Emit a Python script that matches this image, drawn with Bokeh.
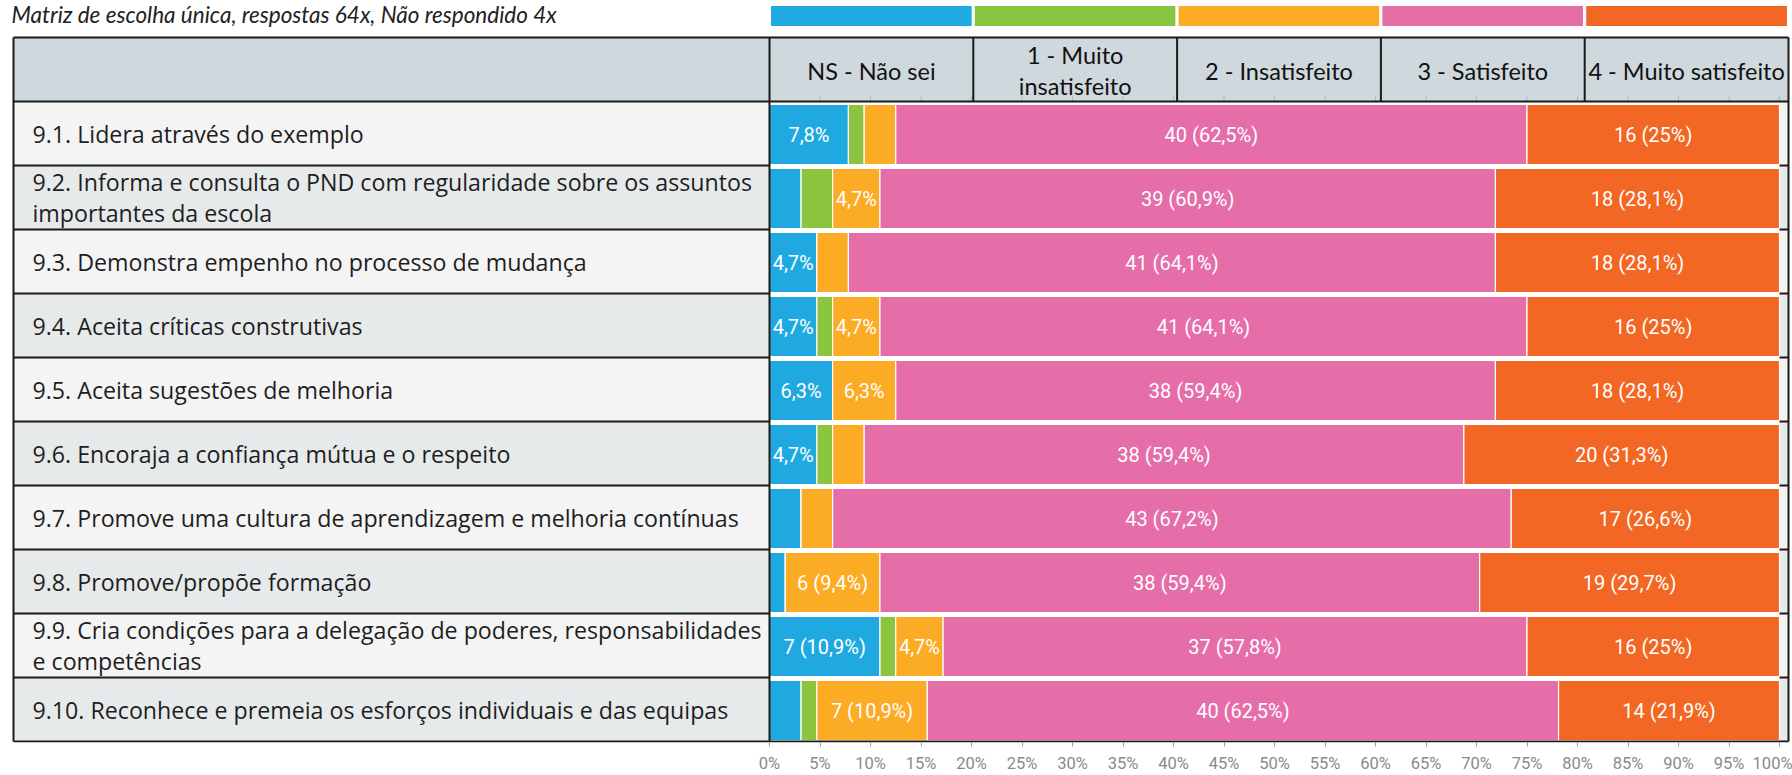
from bokeh.plotting import figure
from bokeh.models import Range1d, FixedTicker, ColumnDataSource
from bokeh.core.properties import value
from bokeh.embed import file_html
from bokeh.resources import INLINE

# ---------------- data ----------------
title_text = "Matriz de escolha única, respostas 64x, Não respondido 4x"
categories = ["NS - Não sei", "1 - Muito\ninsatisfeito", "2 - Insatisfeito",
              "3 - Satisfeito", "4 - Muito satisfeito"]
items = [
    "9.1. Lidera através do exemplo",
    "9.2. Informa e consulta o PND com regularidade sobre os assuntos\nimportantes da escola",
    "9.3. Demonstra empenho no processo de mudança",
    "9.4. Aceita críticas construtivas",
    "9.5. Aceita sugestões de melhoria",
    "9.6. Encoraja a confiança mútua e o respeito",
    "9.7. Promove uma cultura de aprendizagem e melhoria contínuas",
    "9.8. Promove/propõe formação",
    "9.9. Cria condições para a delegação de poderes, responsabilidades\ne competências",
    "9.10. Reconhece e premeia os esforços individuais e das equipas",
]
ns_nao_sei = [5, 2, 3, 3, 4, 3, 2, 1, 7, 2]
muito_insatisfeito = [1, 2, 0, 1, 0, 1, 0, 0, 1, 1]
insatisfeito = [2, 3, 2, 3, 4, 2, 2, 6, 3, 7]
satisfeito = [40, 39, 41, 41, 38, 38, 43, 38, 37, 40]
muito_satisfeito = [16, 18, 18, 16, 18, 20, 17, 19, 16, 14]
total_respostas = 64
tick_values = list(range(0, 101, 5))
tick_labels = [f"{v}%" for v in tick_values]

series = [ns_nao_sei, muito_insatisfeito, insatisfeito, satisfeito, muito_satisfeito]
colors = ["#1fa9e0", "#8bc53f", "#fbab24", "#e56ea9", "#f26723"]

# ---------------- layout (page pixels) ----------------
W, H = 1792, 775
PAGE_LEFT, PAGE_TOP = 0, 0
X0_PX = 769          # 0 %
PX_PER_PCT = 10.1
TABLE_LEFT, TABLE_RIGHT = 13, 1788
TABLE_TOP, HEADER_BOTTOM, ROW_H = 37, 101, 64
N = len(items)
TABLE_BOTTOM = HEADER_BOTTOM + ROW_H * N
FRAME_BOTTOM = TABLE_BOTTOM + 1


def ux(px):
    return (px - X0_PX) / PX_PER_PCT


p = figure(width=W, height=H, output_backend="svg", toolbar_location=None,
           x_range=Range1d(ux(PAGE_LEFT), ux(PAGE_LEFT + W)),
           y_range=Range1d(FRAME_BOTTOM, PAGE_TOP),
           min_border_left=0, min_border_right=0, min_border_top=0,
           min_border_bottom=H - (FRAME_BOTTOM - PAGE_TOP))
p.outline_line_color = None
p.grid.visible = False
p.yaxis.visible = False
p.background_fill_color = "white"
p.border_fill_color = "white"

row_top = [HEADER_BOTTOM + ROW_H * i for i in range(N)]
row_mid = [t + ROW_H / 2 for t in row_top]

# title
p.text(x=[ux(11)], y=[14], text=[title_text], text_font=value("Lato"),
       text_font_style="italic", text_font_size="22.5px", text_color="#222222",
       text_baseline="middle", text_align="left")

# column edges (header cells and legend strip)
col_w = (ux(TABLE_RIGHT) - 0) / len(categories)
col_left = [k * col_w for k in range(len(categories))]
col_right = [(k + 1) * col_w for k in range(len(categories))]
col_mid = [(a + b) / 2 for a, b in zip(col_left, col_right)]

# legend strip
p.quad(left=col_left, right=col_right, top=[4] * 5, bottom=[27] * 5,
       fill_color=colors, line_color="white", line_width=3)

# header background
p.quad(left=[ux(TABLE_LEFT)], right=[ux(TABLE_RIGHT)], top=[TABLE_TOP],
       bottom=[HEADER_BOTTOM], fill_color="#cfd8dc", line_color=None)
# label column backgrounds
row_fill = ["#f4f4f4" if i % 2 == 0 else "#e7eaeb" for i in range(N)]
p.quad(left=[ux(TABLE_LEFT)] * N, right=[0] * N, top=row_top,
       bottom=[t + ROW_H for t in row_top], fill_color=row_fill, line_color=None)
# right strip background
p.quad(left=[100] * N, right=[ux(TABLE_RIGHT)] * N, top=row_top,
       bottom=[t + ROW_H for t in row_top], fill_color=row_fill, line_color=None)

# header texts
p.text(x=col_mid, y=[(TABLE_TOP + HEADER_BOTTOM) / 2 + 1] * 5, text=categories,
       text_font=value("Lato"), text_font_size="23.5px", text_color="#111111",
       text_align="center", text_baseline="middle", text_line_height=1.13)

# row labels
p.text(x=[ux(32)] * N, y=row_mid, text=items, text_font=value("Open Sans"),
       text_font_size="23.2px", text_color="#1e1e1e", text_align="left",
       text_baseline="middle", text_line_height=0.99)


# stacked bars
def fmt_pct(v):
    r = int(v * 10 + 0.5) / 10
    s = f"{r:.1f}".replace(".", ",")
    if s.endswith(",0"):
        s = s[:-2]
    return s + "%"


cum = [0.0] * N
for k, ser in enumerate(series):
    pct = [c / total_respostas * 100 for c in ser]
    left = cum[:]
    right = [a + b for a, b in zip(cum, pct)]
    cum = right
    src = ColumnDataSource(dict(y=[m + 1 for m in row_mid], left=left, right=right))
    p.hbar(y="y", left="left", right="right", height=ROW_H - 4, source=src,
           fill_color=colors[k], line_color="white", line_width=1.2)
    lx, ly, lt = [], [], []
    for i, c in enumerate(ser):
        if c >= 3:
            txt = fmt_pct(pct[i]) if c < 6 else f"{c} ({fmt_pct(pct[i])})"
            lx.append((left[i] + right[i]) / 2)
            ly.append(row_mid[i] + 1)
            lt.append(txt)
    p.text(x=lx, y=ly, text=lt, text_font=value("Roboto"),
           text_font_size="20px", text_color="white", text_align="center",
           text_baseline="middle")

# tick marks at top of bar area
p.segment(x0=tick_values, x1=tick_values, y0=[HEADER_BOTTOM] * len(tick_values),
          y1=[HEADER_BOTTOM - 5] * len(tick_values), line_color="#b0b0b0", line_width=1)

# table borders
bx0, bx1, by0, by1 = [], [], [], []
for yy in (TABLE_TOP, HEADER_BOTTOM, TABLE_BOTTOM):
    bx0.append(ux(TABLE_LEFT)); bx1.append(ux(TABLE_RIGHT)); by0.append(yy); by1.append(yy)
for t in row_top[1:]:
    bx0.append(ux(TABLE_LEFT)); bx1.append(0); by0.append(t); by1.append(t)
    bx0.append(100); bx1.append(ux(TABLE_RIGHT)); by0.append(t); by1.append(t)
for xx in (ux(TABLE_LEFT), 0, ux(TABLE_RIGHT)):
    bx0.append(xx); bx1.append(xx); by0.append(TABLE_TOP); by1.append(TABLE_BOTTOM)
for xx in col_left[1:]:
    bx0.append(xx); bx1.append(xx); by0.append(TABLE_TOP); by1.append(HEADER_BOTTOM)
p.segment(x0=bx0, x1=bx1, y0=by0, y1=by1, line_color="#1a1a1a", line_width=2)

# x axis
ax = p.xaxis[0]
ax.ticker = FixedTicker(ticks=tick_values)
ax.major_label_overrides = {v: l for v, l in zip(tick_values, tick_labels)}
ax.axis_line_color = None
ax.major_tick_in = 0
ax.major_tick_out = 4
ax.major_tick_line_color = "#9a9a9a"
ax.minor_tick_line_color = None
ax.major_label_standoff = 7
ax.major_label_text_font = "Roboto"
ax.major_label_text_font_size = "16.5px"
ax.major_label_text_color = "#8a8a8a"

open("out.html", "w").write(file_html(p, INLINE))
